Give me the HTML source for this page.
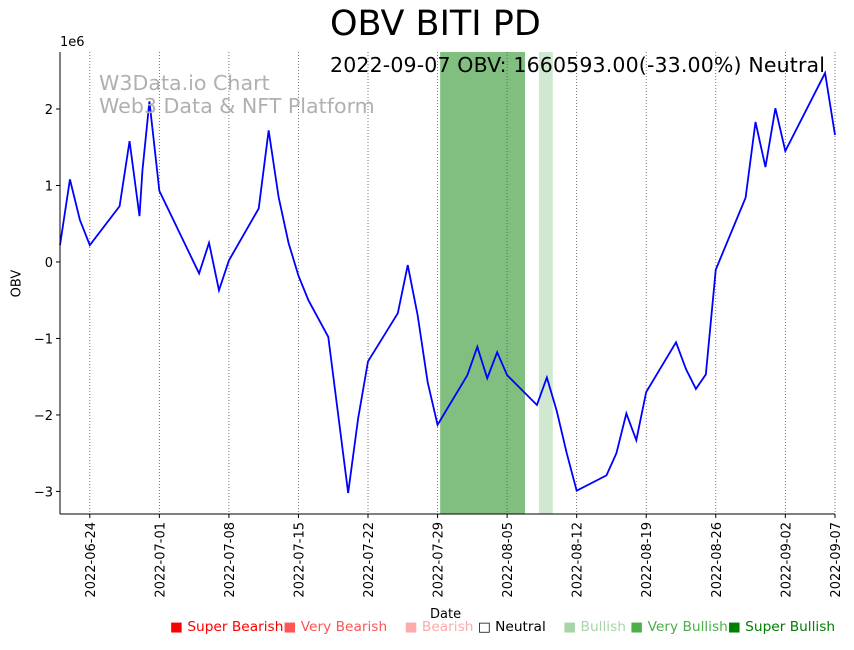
<!DOCTYPE html>
<html><head><meta charset="utf-8"><style>
body{margin:0;background:#fff;width:854px;height:646px;overflow:hidden;font-family:"DejaVu Sans","Liberation Sans",sans-serif}
svg text{font-family:"DejaVu Sans","Liberation Sans",sans-serif}
</style></head><body>
<svg id="c" width="854" height="646"></svg>
<script>
const days=[0,1,2,3,6,7,8,8.3,9,10,14,15,16,17,20,21,22,23,24,25,27,28,29,30,31,34,35,36,37,38,41,42,43,44,45,48,49,50,51,52,55,56,57,58,59,62,63,64,65,66,69,70,71,72,73,77,78];
const obv=[0.22,1.08,0.55,0.22,0.73,1.58,0.6,1.2,2.1,0.93,-0.15,0.25,-0.37,0.02,0.7,1.72,0.85,0.25,-0.18,-0.5,-0.98,-2.0,-3.02,-2.05,-1.3,-0.67,-0.04,-0.7,-1.57,-2.13,-1.48,-1.11,-1.52,-1.18,-1.48,-1.87,-1.51,-1.95,-2.5,-2.99,-2.79,-2.5,-1.98,-2.33,-1.7,-1.05,-1.4,-1.66,-1.47,-0.1,0.84,1.83,1.24,2.01,1.45,2.47,1.66];
const xTickDays=[3,10,17,24,31,38,45,52,59,66,73,78];
const xTickLabels=["2022-06-24","2022-07-01","2022-07-08","2022-07-15","2022-07-22","2022-07-29","2022-08-05","2022-08-12","2022-08-19","2022-08-26","2022-09-02","2022-09-07"];
const yTicks=[-3,-2,-1,0,1,2];
const yTickLabels=["\u22123","\u22122","\u22121","0","1","2"];
const bands=[[38.26,46.8,"#80bf80"],[48.2,49.6,"#d0e8d0"]];
const X0=60,X1=835,Y0=52,Y1=514,dMin=0,dMax=78,vMin=-3.295,vMax=2.745;
const sx=d=>X0+(d-dMin)/(dMax-dMin)*(X1-X0);
const sy=v=>Y1-(v-vMin)/(vMax-vMin)*(Y1-Y0);
const svg=document.getElementById('c');const NS='http://www.w3.org/2000/svg';
function mk(t,a,p){const e=document.createElementNS(NS,t);for(const k in a)e.setAttribute(k,a[k]);(p||svg).appendChild(e);return e;}
bands.forEach(b=>{const r=mk('rect',{x:sx(b[0]),y:Y0,width:sx(b[1])-sx(b[0]),height:Y1-Y0,fill:b[2]});

});
xTickDays.forEach((d,i)=>{const x=sx(d);
const g=mk('line',{x1:x,x2:x,y1:Y0,y2:Y1,stroke:'#555','stroke-width':0.8,'stroke-dasharray':'1,2'});


mk('line',{x1:x,x2:x,y1:Y1,y2:Y1+4,stroke:'#000'});
const t=mk('text',{x:0,y:0,'font-size':13,'text-anchor':'end',transform:`translate(${x+5},${Y1+8}) rotate(-90)`});t.textContent=xTickLabels[i];

});
yTicks.forEach((v,i)=>{const y=sy(v);mk('line',{x1:X0-4,x2:X0,y1:y,y2:y,stroke:'#000'});
const t=mk('text',{x:X0-7,y:y+5,'font-size':13,'text-anchor':'end'});t.textContent=yTickLabels[i];

});
const ln=mk('polyline',{points:days.map((d,i)=>sx(d)+','+sy(obv[i])).join(' '),fill:'none',stroke:'#0000ff','stroke-width':1.8});


mk('line',{x1:X0,x2:X0,y1:Y0,y2:Y1,stroke:'#000'});mk('line',{x1:X0,x2:X1,y1:Y1,y2:Y1,stroke:'#000'});
</script>
<div style="position:absolute;left:0;top:0;width:854px;height:646px;pointer-events:none">
<div style="position:absolute;left:330px;top:4px;font-size:35px;white-space:nowrap">OBV BITI PD</div>
<div style="position:absolute;left:60px;top:35px;font-size:13px">1e6</div>
<div style="position:absolute;left:330px;top:53px;font-size:20.5px;letter-spacing:0.15px;white-space:nowrap">2022-09-07 OBV: 1660593.00(-33.00%) Neutral</div>
<div style="position:absolute;left:99px;top:72px;font-size:20.6px;color:#b0b0b0;line-height:23px">W3Data.io Chart<br>Web3 Data &amp; NFT Platform</div>
<div style="position:absolute;left:3px;top:276px;font-size:13px;transform:rotate(-90deg)">OBV</div>
<div style="position:absolute;left:430px;top:607px;font-size:13px">Date</div>
<div style="position:absolute;left:170px;top:620px;font-size:13px;white-space:nowrap;transform-origin:0 0;transform:scaleX(1.055)">
<span style="color:#f00">■ Super Bearish</span><span style="color:#f55">■ Very Bearish</span>&nbsp;&nbsp;&nbsp;&nbsp;<span style="color:#faa">■ Bearish</span> <span style="color:#000">□ Neutral</span>&nbsp;&nbsp;&nbsp;&nbsp;<span style="color:#a8d5a8">■ Bullish</span> <span style="color:#4caf4c">■ Very Bullish</span><span style="color:#008000">■ Super Bullish</span>
</div></div>
</body></html>
